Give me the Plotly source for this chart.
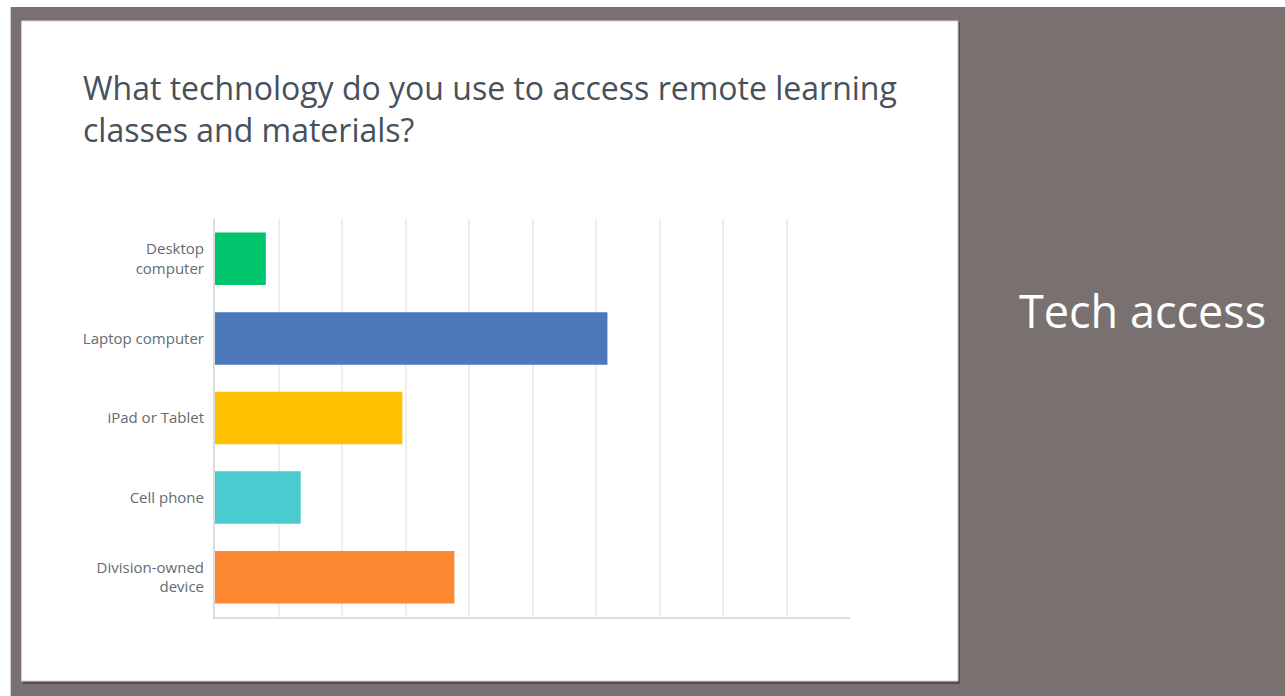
import plotly.graph_objects as go

# Survey responses (percent of respondents)
categories = ["Desktop<br>computer", "Laptop computer", "iPad or Tablet", "Cell phone", "Division-owned<br>device"]
percents = [8.0, 61.8, 29.5, 13.5, 37.7]
bar_colors = ["#00c46c", "#4a78ba", "#ffc000", "#4acbd0", "#ff8833"]

title_text = "What technology do you use to access remote learning<br>classes and materials?"
side_text = "Tech access"

W, H = 1285, 696
L, R, T, B = 214.5, 850.0, 219.0, 617.0  # plot area in pixels


def px_x(x):
    return (x - L) / (R - L)


def px_y(y):
    return (B - y) / (B - T)


fig = go.Figure(
    go.Bar(
        x=percents,
        y=categories,
        orientation="h",
        marker=dict(color=bar_colors, line=dict(width=0)),
        hoverinfo="skip",
    )
)

shapes = [
    # slide backdrop
    dict(type="rect", xref="paper", yref="paper", layer="below",
         x0=px_x(10), x1=px_x(W + 5), y0=px_y(7), y1=px_y(H + 5),
         fillcolor="#78716f", line=dict(width=0)),
    # card shadow
    dict(type="rect", xref="paper", yref="paper", layer="below",
         x0=px_x(22), x1=px_x(960), y0=px_y(22), y1=px_y(684),
         fillcolor="#55504f", line=dict(width=0)),
    # white card
    dict(type="rect", xref="paper", yref="paper", layer="below",
         x0=px_x(21), x1=px_x(958), y0=px_y(21), y1=px_y(681),
         fillcolor="#ffffff", line=dict(color="#d8d8d8", width=1)),
]

annotations = [
    dict(text=title_text, xref="paper", yref="paper",
         x=px_x(80), y=px_y(64), xanchor="left", yanchor="top", align="left",
         showarrow=False,
         font=dict(family="Open Sans", size=32, color="#46515b")),
    dict(text=side_text, xref="paper", yref="paper",
         x=px_x(1143), y=px_y(310), xanchor="center", yanchor="middle",
         showarrow=False,
         font=dict(family="Open Sans", size=45, color="#ffffff")),
]

fig.update_layout(
    width=W, height=H,
    margin=dict(l=L, r=W - R, t=T, b=H - B, pad=0),
    paper_bgcolor="#ffffff",
    plot_bgcolor="rgba(0,0,0,0)",
    showlegend=False,
    bargap=0.34,
    shapes=shapes,
    annotations=annotations,
    xaxis=dict(range=[0, 100], dtick=10, showticklabels=False, ticks="",
               showgrid=True, gridcolor="#eeeeee", gridwidth=1.5,
               zeroline=False, showline=True, linecolor="#dcdcdc", linewidth=2,
               fixedrange=True),
    yaxis=dict(autorange="reversed", showgrid=False, zeroline=False,
               showline=True, linecolor="#dcdcdc", linewidth=2, ticks="",
               ticklabelstandoff=6,
               tickfont=dict(family="Open Sans", size=15, color="#636b73"),
               fixedrange=True),
)

fig.write_html("out.html", config={"displayModeBar": False})
